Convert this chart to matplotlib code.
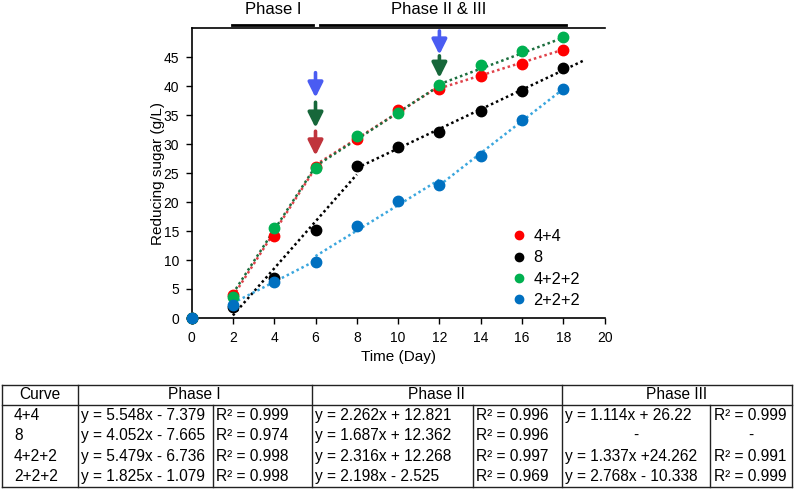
"""
Reducing sugar vs time for four feeding strategies, with per-phase linear
trendlines and a summary table of the fitted equations underneath.
"""

import matplotlib
matplotlib.use("Agg")
import matplotlib.pyplot as plt
from matplotlib.lines import Line2D

plt.rcParams["font.family"] = ["Liberation Sans", "DejaVu Sans"]

W_PX, H_PX = 797, 490

# --- data ---
DAYS = [0, 2, 4, 6, 8, 10, 12, 14, 16, 18]
SUGAR_44 = [0, 3.9, 14.2, 26.0, 30.8, 35.8, 39.4, 41.7, 43.8, 46.2]
SUGAR_8 = [0, 1.9, 6.9, 15.2, 26.2, 29.4, 32.1, 35.7, 39.2, 43.1]
SUGAR_422 = [0, 3.6, 15.6, 25.8, 31.3, 35.4, 40.1, 43.6, 46.0, 48.4]
SUGAR_222 = [0, 2.2, 6.2, 9.6, 15.8, 20.2, 23.0, 28.0, 34.1, 39.4]
ERR_44 = [0.2, 0.3, 0.4, 0.3, 0.3, 0.3, 0.3, 0.3, 0.3, 0.3]
ERR_8 = [0.2, 0.3, 0.4, 0.3, 0.6, 0.3, 0.3, 0.3, 0.3, 0.3]
ERR_422 = [0.2, 0.3, 0.3, 0.3, 0.3, 0.3, 0.3, 0.3, 0.3, 0.3]
ERR_222 = [0.2, 0.3, 0.3, 0.3, 0.3, 0.3, 0.3, 0.4, 0.4, 0.3]

CURVES = ["4+4", "8", "4+2+2", "2+2+2"]

# per-phase fits (slope, intercept, x range)
SLOPES_44 = [5.548, 2.262, 1.114]
INTER_44 = [-7.379, 12.821, 26.22]
SPANS_44 = [(2, 6), (6, 12), (12, 18)]
SLOPES_8 = [4.052, 1.687]
INTER_8 = [-7.665, 12.362]
SPANS_8 = [(2, 8), (8, 19)]
SLOPES_422 = [5.479, 2.316, 1.337]
INTER_422 = [-6.736, 12.268, 24.262]
SPANS_422 = [(2, 6), (6, 12), (12, 18)]
SLOPES_222 = [1.825, 2.198, 2.768]
INTER_222 = [-1.079, -2.525, -10.338]
SPANS_222 = [(2, 6), (6, 12), (12, 18)]

# table text
TABLE_HEADER = ["Curve", "Phase I", "Phase II", "Phase III"]
EQ_PHASE1 = ["y = 5.548x - 7.379", "y = 4.052x - 7.665", "y = 5.479x - 6.736", "y = 1.825x - 1.079"]
R2_PHASE1 = ["R\u00b2 = 0.999", "R\u00b2 = 0.974", "R\u00b2 = 0.998", "R\u00b2 = 0.998"]
EQ_PHASE2 = ["y = 2.262x + 12.821", "y = 1.687x + 12.362", "y = 2.316x + 12.268", "y = 2.198x - 2.525"]
R2_PHASE2 = ["R\u00b2 = 0.996", "R\u00b2 = 0.996", "R\u00b2 = 0.997", "R\u00b2 = 0.969"]
EQ_PHASE3 = ["y = 1.114x + 26.22", "-", "y = 1.337x +24.262", "y = 2.768x - 10.338"]
R2_PHASE3 = ["R\u00b2 = 0.999", "-", "R\u00b2 = 0.991", "R\u00b2 = 0.999"]

# feeding arrows: (day, y_start, y_end, colour)
ARROW_DAYS = [6, 6, 6, 12, 12]
ARROW_Y0 = [42.3, 37.2, 32.2, 49.5, 45.2]
ARROW_Y1 = [38.0, 32.8, 28.0, 45.4, 41.4]
ARROW_COLORS = ["#4a5cf2", "#17673a", "#c0343c", "#4a5cf2", "#17673a"]

MARKER_COLORS = ["#ff0000", "#000000", "#00b050", "#0070c0"]
TREND_COLORS = ["#e0424a", "#000000", "#1c6e3e", "#3aa6de"]


def px_x(x):
    return x / W_PX


def px_y(y):
    return 1 - y / H_PX


def draw_trend(ax, slopes, intercepts, spans, color):
    for k, b, (x0, x1) in zip(slopes, intercepts, spans):
        ax.plot([x0, x1], [k * x0 + b, k * x1 + b], linestyle=(0, (1, 1.2)),
                color=color, lw=1.8, zorder=2)


def draw_table(fig):
    cols = [2, 77.5, 212.5, 311.5, 472.5, 561.5, 710, 792]
    rows = [384.5, 405, 425.5, 446, 466.5, 487]
    lw = 1.0
    kw = dict(transform=fig.transFigure, color="#222222", lw=lw)

    # outer box and header line
    fig.add_artist(Line2D([px_x(cols[0]), px_x(cols[-1])], [px_y(rows[0])] * 2, **kw))
    fig.add_artist(Line2D([px_x(cols[0]), px_x(cols[-1])], [px_y(rows[-1])] * 2, **kw))
    fig.add_artist(Line2D([px_x(cols[0]), px_x(cols[-1])], [px_y(rows[1])] * 2, **kw))
    for c in [cols[0], cols[1], cols[3], cols[5], cols[7]]:
        fig.add_artist(Line2D([px_x(c)] * 2, [px_y(rows[0]), px_y(rows[-1])], **kw))
    for c in [cols[2], cols[4], cols[6]]:
        fig.add_artist(Line2D([px_x(c)] * 2, [px_y(rows[1]), px_y(rows[-1])], **kw))

    fs = 11.2
    hy = px_y((rows[0] + rows[1]) / 2)
    fig.text(px_x((cols[0] + cols[1]) / 2), hy, TABLE_HEADER[0], ha="center", va="center", fontsize=fs)
    fig.text(px_x((cols[1] + cols[3]) / 2), hy, TABLE_HEADER[1], ha="center", va="center", fontsize=fs)
    fig.text(px_x((cols[3] + cols[5]) / 2), hy, TABLE_HEADER[2], ha="center", va="center", fontsize=fs)
    fig.text(px_x((cols[5] + cols[7]) / 2), hy, TABLE_HEADER[3], ha="center", va="center", fontsize=fs)

    columns = [CURVES, EQ_PHASE1, R2_PHASE1, EQ_PHASE2, R2_PHASE2, EQ_PHASE3, R2_PHASE3]
    for i in range(4):
        ty = px_y((rows[i + 1] + rows[i + 2]) / 2)
        for j, col in enumerate(columns):
            txt = col[i]
            if txt == "-":
                fig.text(px_x((cols[j] + cols[j + 1]) / 2), ty, txt, ha="center", va="center", fontsize=fs)
            else:
                pad = 12 if j == 0 else 3.5
                fig.text(px_x(cols[j] + pad), ty, txt, ha="left", va="center", fontsize=fs)


def main():
    fig = plt.figure(figsize=(W_PX / 100, H_PX / 100), dpi=100)
    ax = fig.add_axes([px_x(191.6), px_y(318), (604.6 - 191.6) / W_PX, (318 - 28) / H_PX])

    series = [SUGAR_44, SUGAR_8, SUGAR_422, SUGAR_222]
    errors = [ERR_44, ERR_8, ERR_422, ERR_222]
    fits = [(SLOPES_44, INTER_44, SPANS_44), (SLOPES_8, INTER_8, SPANS_8),
            (SLOPES_422, INTER_422, SPANS_422), (SLOPES_222, INTER_222, SPANS_222)]

    for (s, b, sp), col in zip(fits, TREND_COLORS):
        draw_trend(ax, s, b, sp, col)

    handles = []
    for vals, err, col, name in zip(series, errors, MARKER_COLORS, CURVES):
        ax.errorbar(DAYS, vals, yerr=err, fmt="none", ecolor=col, elinewidth=1,
                    capsize=2, zorder=3, clip_on=False)
        ax.plot(DAYS, vals, "o", color=col, ms=7.5, zorder=4, clip_on=False)
        handles.append(Line2D([], [], marker="o", ls="none", color=col, ms=6, label=name))

    for d, y0, y1, c in zip(ARROW_DAYS, ARROW_Y0, ARROW_Y1, ARROW_COLORS):
        ax.annotate("", xy=(d, y1), xytext=(d, y0),
                    arrowprops=dict(arrowstyle="-|>,head_length=0.9,head_width=0.45",
                                    color=c, lw=2.6, shrinkA=0, shrinkB=0),
                    zorder=5)

    ax.set_xlim(0, 20)
    ax.set_ylim(0, 50)
    ax.set_xticks(range(0, 21, 2))
    ax.set_yticks(range(0, 46, 5))
    ax.tick_params(direction="out", length=4, width=1, labelsize=10, pad=5)
    ax.spines["right"].set_visible(False)
    for side in ["left", "bottom", "top"]:
        ax.spines[side].set_linewidth(1.2)
    ax.set_xlabel("Time (Day)", fontsize=11, labelpad=4)
    ax.set_ylabel("Reducing sugar (g/L)", fontsize=11, labelpad=-1)

    # phase bars above the plot
    trans = ax.get_xaxis_transform()
    bar_y = 1 + 3.3 / 290
    ax.plot([1.94, 5.86], [bar_y, bar_y], color="black", lw=2, transform=trans, clip_on=False)
    ax.plot([6.2, 18.15], [bar_y, bar_y], color="black", lw=2, transform=trans, clip_on=False)
    fig.text(px_x(273), px_y(9), "Phase I", ha="center", va="center", fontsize=12)
    fig.text(px_x(438.5), px_y(9), "Phase II & III", ha="center", va="center", fontsize=12)

    ax.legend(handles=handles, loc="upper left", bbox_to_anchor=(px_x(504), px_y(221)),
              bbox_transform=fig.transFigure, frameon=False, fontsize=11.8,
              handlelength=0.8, handletextpad=0.5, labelspacing=0.38, borderpad=0)

    draw_table(fig)

    fig.savefig("out.png", dpi=100)


if __name__ == "__main__":
    main()
